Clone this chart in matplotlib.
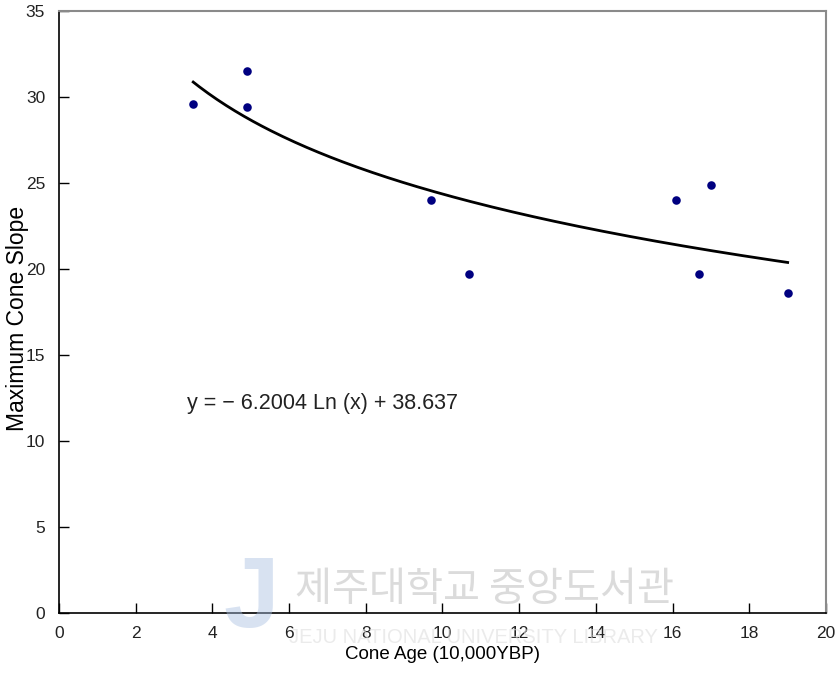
import numpy as np
import matplotlib

matplotlib.use("Agg")
import matplotlib.pyplot as plt

# cone age (10,000 yr BP) and maximum cone slope
age = [3.5, 4.9, 4.9, 9.7, 10.7, 16.1, 16.7, 17.0, 19.0]
slope = [29.6, 31.5, 29.4, 24.0, 19.7, 24.0, 19.7, 24.9, 18.6]

# logarithmic fit y = a ln(x) + b
fit_a = -6.2004
fit_b = 38.637
x_ticks = [0, 2, 4, 6, 8, 10, 12, 14, 16, 18, 20]
y_ticks = [0, 5, 10, 15, 20, 25, 30, 35]

plt.rcParams["font.family"] = ["Liberation Sans", "DejaVu Sans"]
plt.rcParams["axes.unicode_minus"] = False

fig = plt.figure(figsize=(8.37, 6.87), dpi=100)
ax = fig.add_axes([59 / 837, 74 / 687, 767 / 837, 602 / 687])

xs = np.linspace(min(age), max(age), 200)
ax.plot(xs, fit_a * np.log(xs) + fit_b, color="black", lw=2.0, zorder=3)
ax.scatter(age, slope, s=38, marker="o", color="#000080", zorder=4,
           linewidths=0)

ax.set_xlim(0, 20)
ax.set_ylim(0, 35)
ax.set_xticks(x_ticks)
ax.set_yticks(y_ticks)
ax.tick_params(direction="in", length=7, width=1, labelsize=12.5,
               labelcolor="#222222", pad=9)
ax.tick_params(axis="y", pad=10)

for s in ("left", "bottom"):
    ax.spines[s].set_color("black")
    ax.spines[s].set_linewidth(1.2)
for s in ("top", "right"):
    ax.spines[s].set_color("#8a8a8a")
    ax.spines[s].set_linewidth(1.5)

ax.set_xlabel("Cone Age (10,000YBP)", fontsize=13.5, labelpad=4)
fig.text(18 / 837, 1 - 318 / 687, "Maximum Cone Slope", fontsize=16.5,
         rotation=90, ha="center", va="center")

ax.text(3.35, 12.2, "y = \u2212 6.2004 Ln (x) + 38.637", fontsize=15.5,
        color="#222222", va="center")

# library watermark
fig.text(0.353, 0.142, "제주대학교 중앙도서관", fontsize=29,
         family=["Noto Sans CJK KR", "DejaVu Sans"], color="#c4c4c4",
         alpha=0.6, va="center")
fig.text(0.345, 0.072, "JEJU NATIONAL UNIVERSITY LIBRARY", fontsize=14.5,
         color="#dedede", alpha=0.6, va="center", zorder=0)
fig.text(0.3, 0.125, "J", fontsize=72, fontweight="bold", color="#a9c0e2",
         alpha=0.45, va="center", ha="center", zorder=0)

fig.savefig("out.png", dpi=100)
